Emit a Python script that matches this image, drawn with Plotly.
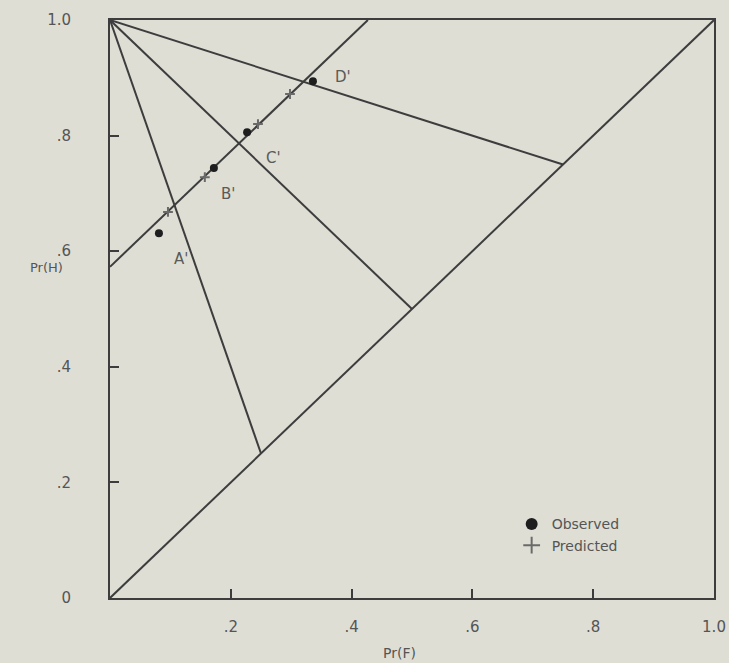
import plotly.graph_objects as go

# DATA #
pr_f_observed = [0.081, 0.172, 0.227, 0.336]
pr_h_observed = [0.631, 0.744, 0.806, 0.894]
pr_f_predicted = [0.096, 0.157, 0.245, 0.298]
pr_h_predicted = [0.668, 0.728, 0.820, 0.872]
point_labels = ["A'", "B'", "C'", "D'"]

# lines from the (0,1) corner down to the chance diagonal
fan_ends = [0.25, 0.50, 0.75]
# straight operating line through the predicted points
line_f = [0.0, 0.427]
line_h = [0.573, 1.0]

tick_vals = [0, 0.2, 0.4, 0.6, 0.8, 1.0]
tick_text = ["0", ".2", ".4", ".6", ".8", "1.0"]

INK = "#3d3d3d"
TXT = "#555555"
PAPER = "#deded5"

fig = go.Figure()

# chance diagonal
fig.add_trace(go.Scatter(x=[0, 1], y=[0, 1], mode="lines",
                         line=dict(color=INK, width=2), showlegend=False, hoverinfo="skip"))
for e in fan_ends:
    fig.add_trace(go.Scatter(x=[0, e], y=[1, e], mode="lines",
                             line=dict(color=INK, width=2), showlegend=False, hoverinfo="skip"))
fig.add_trace(go.Scatter(x=line_f, y=line_h, mode="lines",
                         line=dict(color=INK, width=2), showlegend=False, hoverinfo="skip"))

# corner dot
fig.add_trace(go.Scatter(x=[0], y=[1], mode="markers",
                         marker=dict(symbol="square", size=6, color=INK),
                         showlegend=False, hoverinfo="skip"))

fig.add_trace(go.Scatter(x=pr_f_observed, y=pr_h_observed, mode="markers", name="Observed",
                         marker=dict(symbol="circle", size=8, color="#1e1e1e")))
fig.add_trace(go.Scatter(x=pr_f_predicted, y=pr_h_predicted, mode="markers", name="Predicted",
                         marker=dict(symbol="cross-thin", size=7, color="#6a6a6a",
                                     line=dict(width=2, color="#6a6a6a"))))

# point labels
label_shift = [(22, -26), (14, -26), (26, -26), (30, 4)]
for fx, hy, lab, (dx, dy) in zip(pr_f_observed, pr_h_observed, point_labels, label_shift):
    fig.add_annotation(x=fx, y=hy, text=lab, showarrow=False, xshift=dx, yshift=dy,
                       font=dict(size=15, color="#5a5a5a", family="DejaVu Sans"))

# axis titles
fig.add_annotation(x=-0.136, y=0.571, xref="paper", yref="paper", text="Pr(H)",
                   showarrow=False, font=dict(size=13, color=TXT))
fig.add_annotation(x=0.48, y=-0.113, xref="paper", yref="paper", text="Pr(F)",
                   showarrow=False, font=dict(size=14, color=TXT))

axis_common = dict(
    range=[0, 1], showgrid=False, zeroline=False, showline=True, mirror=True,
    linecolor=INK, linewidth=2, ticks="inside", ticklen=9, tickwidth=2, tickcolor=INK,
    tickfont=dict(size=15, color=TXT, family="DejaVu Sans"), automargin=False,
)
fig.update_xaxes(tickvals=tick_vals[1:], ticktext=tick_text[1:], ticklabelstandoff=14,
                 **axis_common)
fig.update_yaxes(tickvals=tick_vals, ticktext=tick_text, ticklabelstandoff=34,
                 **axis_common)

fig.update_layout(
    width=729, height=663,
    margin=dict(l=110, r=15, t=20, b=65),
    paper_bgcolor=PAPER, plot_bgcolor=PAPER,
    font=dict(family="DejaVu Sans", color=TXT),
    legend=dict(x=0.665, y=0.155, xanchor="left", yanchor="top",
                bgcolor="rgba(0,0,0,0)", font=dict(size=14, color=TXT),
                itemsizing="constant", tracegroupgap=2),
)

fig.write_html("out.html", config={"displayModeBar": False},
               post_script="document.body.style.margin='0';document.body.style.overflow='hidden';")
